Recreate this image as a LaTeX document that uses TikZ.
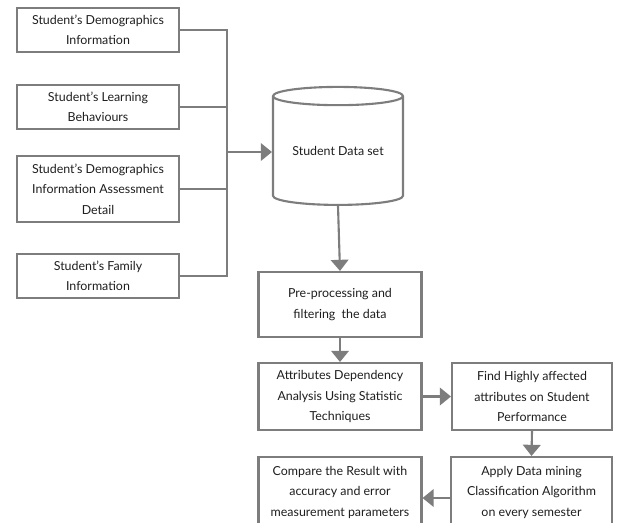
\documentclass[tikz,border=0pt]{standalone}
\usepackage{fontspec}
\setmainfont{Lato}
\usetikzlibrary{shapes.geometric,arrows.meta}
\definecolor{linegray}{RGB}{125,125,125}
\definecolor{textgray}{RGB}{30,30,30}
\begin{document}
\begin{tikzpicture}[x=0.03cm,y=-0.03cm,
  box/.style={draw=linegray,line width=1.8pt,text=textgray,align=center,inner sep=0pt,
    font=\fontsize{10.6}{17.5}\selectfont},
  link/.style={draw=linegray,line width=1.8pt},
  flow/.style={link,-{Triangle[length=9.5pt,width=15pt]}}]
  \def\px{0.03cm}
  \useasboundingbox (0,0) rectangle (618,522);
  \clip (0,0) rectangle (618,522);
  % input boxes on the left
  \node [box,minimum width=162*\px,minimum height=44*\px] (demo) at (98,30) {Student's Demographics\\Information};
  \node [box,minimum width=162*\px,minimum height=44*\px] (learn) at (98,107) {Student's Learning\\Behaviours};
  \node [box,minimum width=162*\px,minimum height=66*\px] (assess) at (98,189) {Student's Demographics\\Information Assessment\\Detail};
  \node [box,minimum width=162*\px,minimum height=44*\px] (family) at (98,276) {Student's Family\\Information};
  % data set
  \node [box,cylinder,shape border rotate=90,aspect=0.2,minimum width=130*\px,minimum height=118*\px] (data) at (338,151) {Student Data set};
  % processing steps
  \node [box,minimum width=163*\px,minimum height=65*\px] (pre) at (340,304.5) {Pre-processing and\\filtering~ the data};
  \node [box,minimum width=163*\px,minimum height=67*\px] (attr) at (340,396.5) {Attributes Dependency\\Analysis Using Statistic\\Techniques};
  \node [box,minimum width=160*\px,minimum height=67*\px] (find) at (532,396.5) {Find Highly affected\\attributes on Student\\Performance};
  \node [box,minimum width=161*\px,minimum height=70*\px] (apply) at (531.5,492) {Apply Data mining\\Classification Algorithm\\on every semester};
  \node [box,minimum width=163*\px,minimum height=70*\px] (comp) at (340,492) {Compare the Result with\\accuracy and error\\measurement parameters};
  % connectors
  \coordinate (bus) at (227,152);
  \draw [link] (demo.east) -| (bus);
  \draw [link] (family.east) -| (bus);
  \draw [link] (learn.east) -- (learn.east -| bus);
  \draw [link] (assess.east) -- (assess.east -| bus);
  \draw [flow] (bus) -- (bus -| data.west);
  \draw [flow] (data.south) -- (pre.north);
  \draw [flow] (pre.south) -- (attr.north);
  \draw [flow] (attr.east) -- (find.west);
  \draw [flow] (find.south) -- (apply.north);
  \draw [flow] ([yshift=-6*\px]apply.west) -- ([yshift=-6*\px]comp.east);
\end{tikzpicture}
\end{document}
